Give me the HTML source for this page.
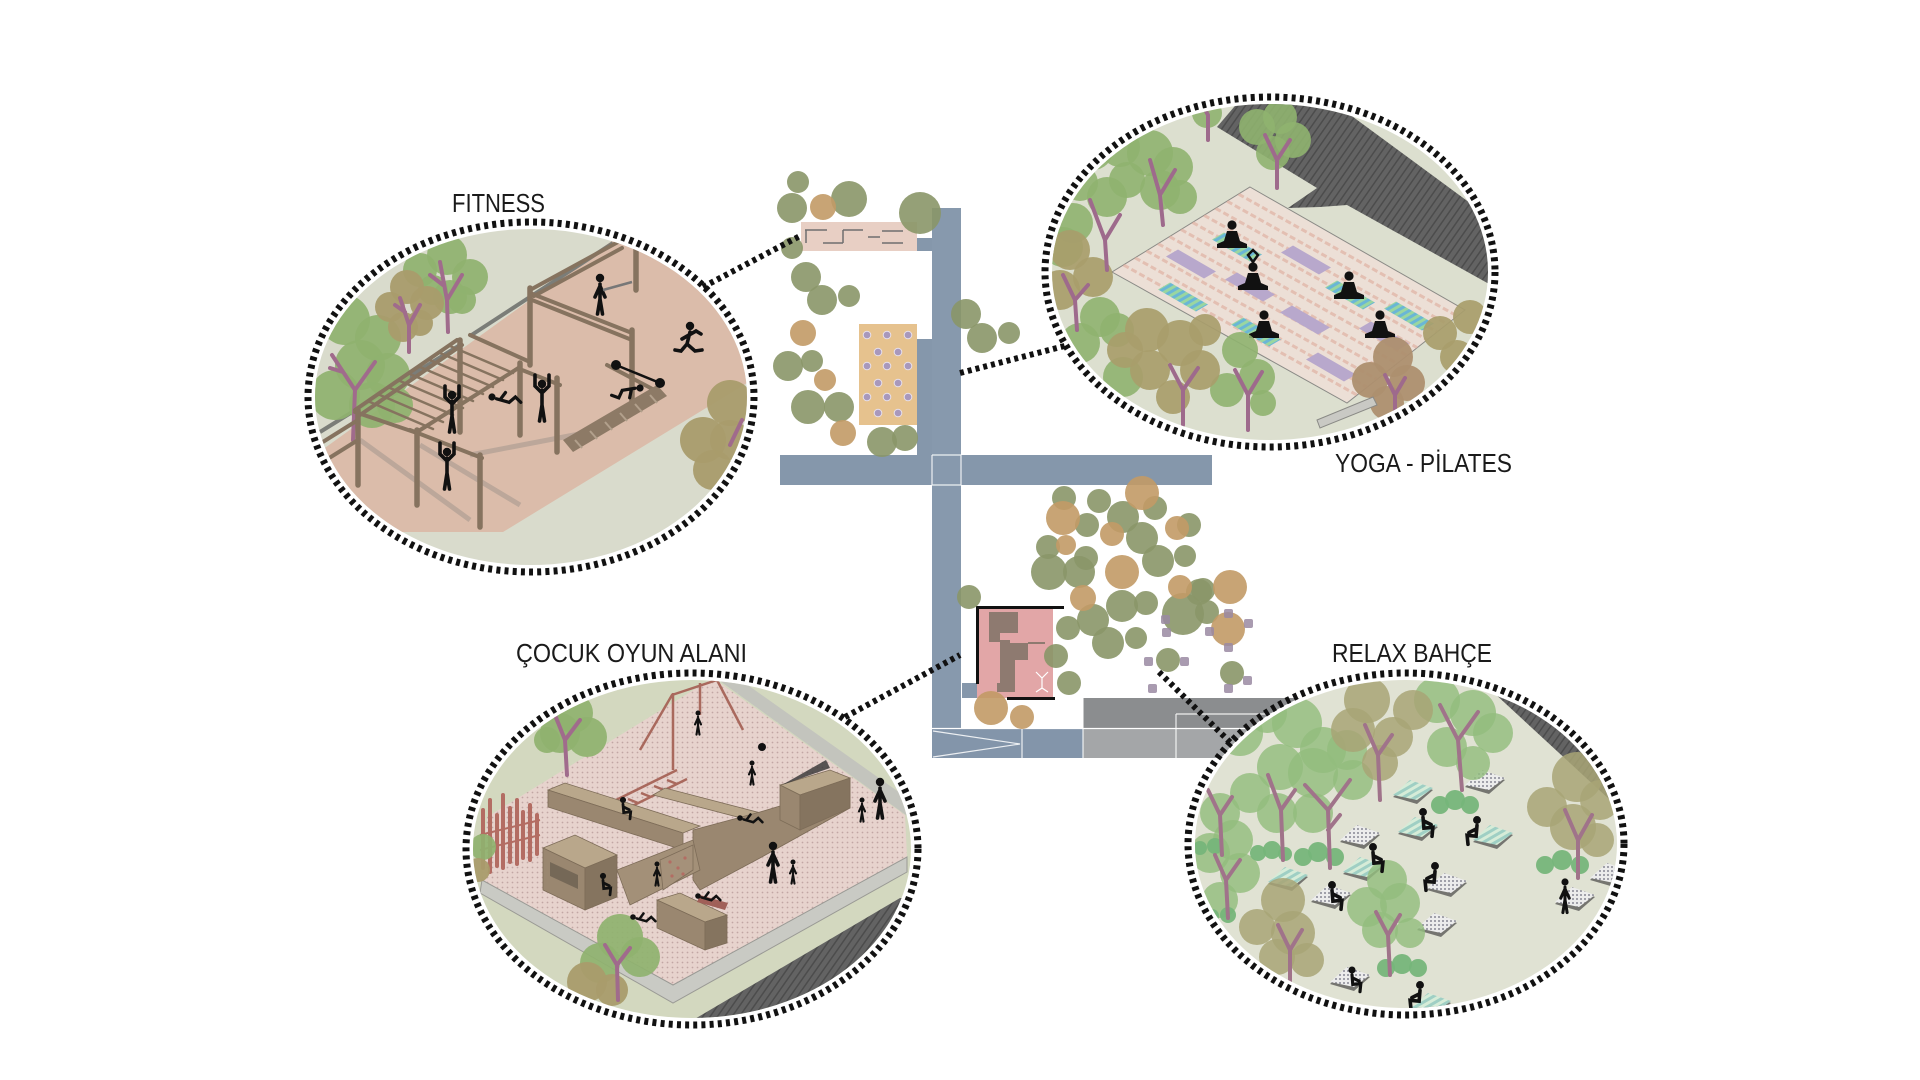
<!DOCTYPE html>
<html><head><meta charset="utf-8"><style>html,body{margin:0;padding:0;background:#fff}svg{display:block}</style></head>
<body>
<svg width="1920" height="1080" viewBox="0 0 1920 1080" xmlns="http://www.w3.org/2000/svg">
<defs>
<clipPath id="cF"><ellipse cx="531" cy="397" rx="216" ry="168"/></clipPath>
<clipPath id="cY"><ellipse cx="1270" cy="272" rx="218" ry="168"/></clipPath>
<clipPath id="cC"><ellipse cx="692" cy="849" rx="219" ry="169"/></clipPath>
<clipPath id="cR"><ellipse cx="1406" cy="844" rx="211" ry="164"/></clipPath>
<clipPath id="cP"><polygon points="1250,187 1465,310 1347,403 1112,272"/></clipPath>
<pattern id="pd" width="5" height="5" patternUnits="userSpaceOnUse"><rect width="5" height="5" fill="#e7d3cd"/><circle cx="2.5" cy="2.5" r="0.9" fill="#c2a6a4"/></pattern>
<pattern id="ds" width="6" height="6" patternUnits="userSpaceOnUse" patternTransform="rotate(35)"><rect width="6" height="6" fill="#636363"/><rect width="1.5" height="6" fill="#4c4c4c"/></pattern>
<pattern id="pt" width="6" height="6" patternUnits="userSpaceOnUse" patternTransform="rotate(60)"><rect width="6" height="6" fill="#9ad6a0"/><rect width="3" height="6" fill="#6ab6d6"/></pattern>
<pattern id="ptl" width="6" height="6" patternUnits="userSpaceOnUse" patternTransform="rotate(60)"><rect width="6" height="6" fill="#d6ecd8"/><rect width="3" height="6" fill="#9fcfc4"/></pattern>
<pattern id="pw" width="4" height="4" patternUnits="userSpaceOnUse"><rect width="4" height="4" fill="#ececec"/><circle cx="2" cy="2" r=".9" fill="#6a6a7a"/></pattern>
<g id="fs"><circle cx="0" cy="0" r="4.2" fill="#111"/><path fill="none" stroke="#111" stroke-width="3.6" stroke-linecap="round" d="M0,6 V21 L-2.5,36 M0,21 L2.5,36 M0,8 L-5,19 M0,8 L5,19"/></g>
<g id="fu"><circle cx="0" cy="0" r="4.2" fill="#111"/><path fill="none" stroke="#111" stroke-width="3.6" stroke-linecap="round" d="M0,6 V21 L-2.5,37 M0,21 L2.5,37 M-1,8 L-7,2 L-7,-9 M1,8 L7,2 L7,-9"/></g>
<g id="fr"><circle cx="0" cy="0" r="4.2" fill="#111"/><path fill="none" stroke="#111" stroke-width="3.6" stroke-linecap="round" d="M0,6 L-3,18 L5,25 L12,24 M-3,18 L-9,25 L-15,24 M-1,9 L-8,13 M-1,9 L6,5 L11,8"/></g>
<g id="fm"><circle cx="0" cy="0" r="4.6" fill="#111"/><path fill="#111" d="M-5,6 H5 L8,16 L15,19 V23 H-15 V19 L-8,16 Z"/></g>
<g id="fl"><circle cx="0" cy="0" r="4" fill="#111"/><path fill="none" stroke="#111" stroke-width="3.6" stroke-linecap="round" d="M5,2 L19,6 L26,0 L32,6 M9,3 L15,-5"/></g>
<g id="fk"><circle cx="0" cy="0" r="4.4" fill="#111"/><path fill="none" stroke="#111" stroke-width="4" stroke-linecap="round" d="M0,6 L1,18 L11,17 L10,27 M1,10 L9,14"/></g>
<g id="mp"><polygon points="-25,-7.5 -13,-14.5 25,7.5 13,14.5" fill="#b8a8cc"/></g>
<g id="mt"><polygon points="-25,-7.5 -13,-14.5 25,7.5 13,14.5" fill="url(#pt)"/></g>
<g id="bt"><polygon points="-20,7 -3,-8 20,0 4,14" fill="#5a5a58" opacity=".8"/><polygon points="-20,5 -3,-10 20,-2 4,10" fill="url(#ptl)"/></g>
<g id="bw"><polygon points="-20,7 -3,-8 20,0 4,14" fill="#5a5a58" opacity=".8"/><polygon points="-20,5 -3,-10 20,-2 4,10" fill="url(#pw)"/></g>
</defs>

<rect width="1920" height="1080" fill="#fff"/>

<!-- ===== CENTRAL PLAN ===== -->
<rect x="780" y="455" width="432" height="30" fill="#8597ab"/>
<rect x="932" y="208" width="29" height="520" fill="#8799ad"/>
<rect x="917" y="339" width="15" height="116" fill="#8597ab"/>
<rect x="917" y="238" width="15" height="13" fill="#8597ab"/>
<rect x="962" y="683" width="15" height="15" fill="#8597ab"/>
<rect x="932" y="729" width="151" height="29" fill="#8395aa"/>
<rect x="1083" y="698" width="240" height="30" fill="#8b8d8f"/>
<rect x="1083" y="729" width="240" height="29" fill="#a4a6a8"/>
<path d="M932,455 V485 M961,455 V485 M932,455 H961 M932,485 H961 M1022,729 V758 M932,728.5 H1323 M1083,698 V758 M1176,714 H1323 M1176,714 V758 M933,731 L1020,744 L933,757" stroke="#fff" stroke-width="1.2" fill="none" opacity=".85"/>

<rect x="801" y="222" width="116" height="29" fill="#e8cfc4"/>
<path d="M805,230 H827 M806,230 V243 M823,243 H843 M843,230 V243 M843,230 H863 M868,237 H880 M882,231 H903 M882,243 H903" stroke="#6f6f6f" stroke-width="1.5" fill="none"/>

<rect x="859" y="324" width="58" height="101" fill="#e6c28e"/>
<g fill="#a898bc" stroke="#e8e0ea" stroke-width="1">
<circle cx="867" cy="335" r="3.8"/><circle cx="887" cy="335" r="3.8"/><circle cx="908" cy="335" r="3.8"/>
<circle cx="878" cy="352" r="3.8"/><circle cx="898" cy="352" r="3.8"/>
<circle cx="867" cy="366" r="3.8"/><circle cx="887" cy="366" r="3.8"/><circle cx="908" cy="366" r="3.8"/>
<circle cx="878" cy="383" r="3.8"/><circle cx="898" cy="383" r="3.8"/>
<circle cx="867" cy="397" r="3.8"/><circle cx="887" cy="397" r="3.8"/><circle cx="908" cy="397" r="3.8"/>
<circle cx="878" cy="413" r="3.8"/><circle cx="898" cy="413" r="3.8"/>
</g>

<rect x="977" y="607" width="76" height="91" fill="#e2a6a7"/>
<g fill="#8e7a70">
<rect x="989" y="612" width="29" height="21"/><rect x="989" y="625" width="11" height="17"/>
<rect x="1000" y="640" width="10" height="47"/><rect x="1002" y="643" width="26" height="17"/>
<rect x="1000" y="660" width="15" height="23"/><rect x="997" y="683" width="18" height="9"/>
<rect x="1028" y="642" width="17" height="2"/>
</g>
<path d="M1036,672 L1042,678 L1048,672 M1042,678 V688 L1036,692 M1042,688 L1048,692" stroke="#fff" stroke-width="1.2" fill="none"/>
<rect x="977" y="606" width="87" height="3" fill="#111"/>
<rect x="976" y="606" width="3" height="78" fill="#111"/>
<rect x="1007" y="697" width="48" height="3" fill="#111"/>

<!-- plan trees -->
<g fill="#8a9668" fill-opacity=".9">
<circle cx="798" cy="182" r="11"/><circle cx="792" cy="208" r="15"/><circle cx="849" cy="199" r="18"/><circle cx="920" cy="213" r="21"/>
<circle cx="792" cy="248" r="11"/><circle cx="806" cy="277" r="15"/><circle cx="822" cy="300" r="15"/><circle cx="849" cy="296" r="11"/>
<circle cx="788" cy="366" r="15"/><circle cx="812" cy="361" r="11"/><circle cx="808" cy="407" r="17"/><circle cx="839" cy="407" r="15"/>
<circle cx="882" cy="442" r="15"/><circle cx="905" cy="438" r="13"/><circle cx="966" cy="314" r="15"/><circle cx="982" cy="338" r="15"/><circle cx="1009" cy="333" r="11"/>
<circle cx="1064" cy="498" r="12"/><circle cx="1099" cy="501" r="12"/><circle cx="1155" cy="508" r="12"/><circle cx="1087" cy="525" r="12"/>
<circle cx="1123" cy="517" r="16"/><circle cx="1142" cy="538" r="16"/><circle cx="1189" cy="525" r="12"/><circle cx="1048" cy="547" r="12"/>
<circle cx="1086" cy="558" r="12"/><circle cx="1049" cy="572" r="18"/><circle cx="1079" cy="572" r="16"/><circle cx="1158" cy="561" r="16"/>
<circle cx="1185" cy="556" r="11"/><circle cx="969" cy="597" r="12"/><circle cx="1122" cy="606" r="16"/><circle cx="1146" cy="603" r="12"/>
<circle cx="1203" cy="590" r="12"/><circle cx="1183" cy="614" r="21"/><circle cx="1207" cy="612" r="12"/><circle cx="1068" cy="628" r="12"/>
<circle cx="1093" cy="620" r="16"/><circle cx="1108" cy="643" r="16"/><circle cx="1136" cy="638" r="11"/><circle cx="1056" cy="656" r="12"/>
<circle cx="1069" cy="683" r="12"/><circle cx="1168" cy="660" r="12"/><circle cx="1232" cy="673" r="12"/><circle cx="1199" cy="592" r="13"/>
</g>
<g fill="#c29a66" fill-opacity=".9">
<circle cx="823" cy="207" r="13"/><circle cx="803" cy="333" r="13"/><circle cx="825" cy="380" r="11"/><circle cx="843" cy="433" r="13"/>
<circle cx="1063" cy="518" r="17"/><circle cx="1142" cy="493" r="17"/><circle cx="1112" cy="534" r="12"/><circle cx="1177" cy="528" r="12"/>
<circle cx="1066" cy="545" r="10"/><circle cx="1122" cy="572" r="17"/><circle cx="1083" cy="598" r="13"/><circle cx="1180" cy="587" r="12"/>
<circle cx="1230" cy="587" r="17"/><circle cx="1228" cy="629" r="17"/><circle cx="991" cy="708" r="17"/><circle cx="1022" cy="717" r="12"/>
</g>
<g fill="#9a8aa2" fill-opacity=".85">
<rect x="1161" y="615" width="9" height="9" rx="2"/><rect x="1162" y="628" width="9" height="9" rx="2"/><rect x="1144" y="657" width="9" height="9" rx="2"/>
<rect x="1180" y="657" width="9" height="9" rx="2"/><rect x="1148" y="684" width="9" height="9" rx="2"/><rect x="1205" y="627" width="9" height="9" rx="2"/>
<rect x="1224" y="643" width="9" height="9" rx="2"/><rect x="1224" y="684" width="9" height="9" rx="2"/><rect x="1224" y="609" width="9" height="9" rx="2"/>
<rect x="1244" y="619" width="9" height="9" rx="2"/><rect x="1243" y="676" width="9" height="9" rx="2"/>
</g>

<!-- connectors -->
<g stroke="#111" stroke-width="6" stroke-dasharray="4 4" fill="none">
<path d="M703,287 L800,236"/>
<path d="M960,373 L1080,342"/>
<path d="M845,717 L960,655"/>
<path d="M1159,672 L1245,757"/>
</g>

<!-- white halos -->
<g fill="#fff">
<ellipse cx="531" cy="397" rx="220" ry="172"/>
<ellipse cx="1270" cy="272" rx="222" ry="172"/>
<ellipse cx="692" cy="849" rx="223" ry="173"/>
<ellipse cx="1406" cy="844" rx="215" ry="168"/>
</g>

<!-- ===== FITNESS ===== -->
<g clip-path="url(#cF)">
<rect x="300" y="220" width="470" height="360" fill="#d9dbcc"/>
<polygon points="613,240 660,240 770,320 752,380 503,532 395,532 340,512 308,460 322,450" fill="#dbbcaa"/>
<path d="M613,243 L470,336 M460,345 L320,432" stroke="#7b7d78" stroke-width="4" fill="none"/>
<path d="M360,440 L470,520 M420,445 L520,505 M470,455 L600,430" stroke="#a69a90" stroke-width="5" fill="none" opacity=".6"/>
<g fill="#8fb26f" fill-opacity=".92">
<circle cx="420" cy="270" r="17"/><circle cx="447" cy="255" r="20"/><circle cx="470" cy="277" r="18"/><circle cx="450" cy="297" r="17"/><circle cx="433" cy="290" r="15"/><circle cx="462" cy="300" r="14"/>
<circle cx="345" cy="320" r="25"/><circle cx="378" cy="338" r="23"/><circle cx="360" cy="365" r="25"/><circle cx="388" cy="375" r="22"/><circle cx="335" cy="395" r="25"/><circle cx="372" cy="405" r="23"/><circle cx="395" cy="405" r="18"/>
</g>
<g fill="#a99c6c" fill-opacity=".95">
<circle cx="407" cy="287" r="17"/><circle cx="390" cy="307" r="15"/><circle cx="427" cy="303" r="17"/><circle cx="403" cy="327" r="15"/><circle cx="420" cy="323" r="13"/>
<circle cx="730" cy="403" r="23"/><circle cx="703" cy="440" r="23"/><circle cx="730" cy="440" r="20"/><circle cx="713" cy="470" r="20"/>
</g>
<g stroke="#a06b8c" stroke-width="4" fill="none" stroke-linecap="round">
<path d="M448,332 L447,300 L440,262 M447,300 L462,275 M443,285 L430,275"/>
<path d="M409,352 L409,325 L400,298 M409,325 L420,305 M405,312 L395,305"/>
<path d="M353,440 L355,390 L332,355 M355,390 L375,362 M343,372 L330,368"/>
<path d="M730,445 L742,420"/>
</g>
<g stroke="#86735f" fill="none" stroke-linecap="round">
<path stroke-width="4" d="M530,290 L618,242 M534,296 L622,248 M530,293 L632,333 M532,300 L632,340 M457,340 L355,410 M462,345 L360,415 M520,367 L417,432 M470,335 L530,362 M522,370 L560,385 M410,430 L482,458 M355,412 L417,433 M358,420 L310,450 M358,440 L310,470 M607,365 L660,393"/>
<path stroke-width="5.5" d="M530,288 V365 M636,247 V290 M632,330 V410 M460,340 V432 M520,363 V435 M358,410 V485 M417,430 V505 M480,455 V527 M557,378 V452"/>
<path stroke-width="2.5" d="M450,346 L513,373 M440,353 L503,380 M430,360 L493,387 M420,367 L483,394 M410,374 L473,401 M400,381 L463,408 M390,388 L453,415 M380,395 L443,422 M370,402 L433,429"/>
</g>
<polygon points="563,440 657,385 667,396 573,452" fill="#8d7a66"/>
<path d="M575,440 L582,448 M590,431 L597,439 M605,422 L612,430 M620,413 L627,421 M635,404 L642,412 M650,395 L657,403" stroke="#b2a08c" stroke-width="2"/>
<use href="#fs" transform="translate(600,278)"/>
<path d="M603,290 L632,282" stroke="#777" stroke-width="2.5"/>
<use href="#fr" transform="translate(690,326)"/>
<use href="#fu" transform="translate(542,384)"/>
<use href="#fu" transform="translate(452,395)"/>
<use href="#fu" transform="translate(447,452)"/>
<use href="#fl" transform="translate(492,397) scale(.9)"/>
<use href="#fl" transform="translate(640,388) rotate(155) scale(.9)"/>
<circle cx="616" cy="365" r="5" fill="#111"/><circle cx="660" cy="383" r="5" fill="#111"/><path d="M616,365 L660,383" stroke="#111" stroke-width="2.5"/>
</g>

<!-- ===== YOGA ===== -->
<g clip-path="url(#cY)">
<rect x="1040" y="90" width="470" height="370" fill="#dcdfcf"/>
<polygon points="1217,127 1240,100 1330,100 1500,225 1500,290 1347,205 1320,207 1288,208 1317,188" fill="url(#ds)"/>
<polygon points="1250,187 1465,310 1347,403 1112,272" fill="#ecdfd6" stroke="#8a8a86" stroke-width="1"/>
<g clip-path="url(#cP)" stroke="#dfae9e" stroke-width="3" opacity=".65" stroke-dasharray="6 3">
<path d="M1123.5,264.9 L1358.5,395.9 M1135,257.8 L1370,388.8 M1146.5,250.8 L1381.5,381.8 M1158,243.7 L1393,374.7 M1169.5,236.6 L1404.5,367.6 M1181,229.5 L1416,360.5 M1192.5,222.4 L1427.5,353.4 M1204,215.3 L1439,346.3 M1215.5,208.3 L1450.5,339.3 M1227,201.2 L1462,332.2 M1238.5,194.1 L1473.5,325.1"/>
</g>
<use href="#mp" transform="translate(1191,264)"/><use href="#mp" transform="translate(1306,260)"/><use href="#mp" transform="translate(1250,287)"/>
<use href="#mp" transform="translate(1305,320)"/><use href="#mp" transform="translate(1384,336)"/><use href="#mp" transform="translate(1331,367)"/>
<use href="#mt" transform="translate(1237,247)"/><use href="#mt" transform="translate(1183,297)"/><use href="#mt" transform="translate(1350,295)"/>
<use href="#mt" transform="translate(1256,332)"/><use href="#mt" transform="translate(1409,316)"/>
<use href="#fm" transform="translate(1232,225)"/>
<use href="#fm" transform="translate(1253,267)"/><path d="M1253,262 L1248,255 L1253,250 L1258,255 Z" fill="none" stroke="#111" stroke-width="2.5"/>
<use href="#fm" transform="translate(1349,276)"/>
<use href="#fm" transform="translate(1264,315)"/>
<use href="#fm" transform="translate(1380,315)"/>
<g fill="#8fb26f" fill-opacity=".9">
<circle cx="1093" cy="150" r="20"/><circle cx="1120" cy="147" r="20"/><circle cx="1080" cy="183" r="18"/><circle cx="1107" cy="197" r="20"/><circle cx="1127" cy="180" r="18"/>
<circle cx="1073" cy="223" r="20"/><circle cx="1063" cy="247" r="20"/><circle cx="1150" cy="153" r="23"/><circle cx="1173" cy="167" r="20"/><circle cx="1160" cy="190" r="20"/><circle cx="1180" cy="197" r="17"/>
<circle cx="1100" cy="317" r="20"/><circle cx="1080" cy="343" r="20"/><circle cx="1117" cy="330" r="17"/><circle cx="1123" cy="377" r="20"/>
<circle cx="1240" cy="350" r="18"/><circle cx="1257" cy="377" r="18"/><circle cx="1227" cy="390" r="17"/><circle cx="1263" cy="403" r="13"/>
<circle cx="1207" cy="113" r="15"/><circle cx="1257" cy="127" r="18"/><circle cx="1280" cy="117" r="17"/><circle cx="1293" cy="140" r="18"/><circle cx="1273" cy="153" r="17"/>
</g>
<g fill="#a89d6b" fill-opacity=".92">
<circle cx="1070" cy="250" r="20"/><circle cx="1093" cy="277" r="20"/><circle cx="1060" cy="290" r="20"/>
<circle cx="1147" cy="330" r="22"/><circle cx="1180" cy="343" r="23"/><circle cx="1200" cy="370" r="20"/><circle cx="1150" cy="370" r="20"/><circle cx="1173" cy="397" r="17"/>
<circle cx="1125" cy="350" r="18"/><circle cx="1205" cy="330" r="16"/>
<circle cx="1440" cy="333" r="17"/><circle cx="1470" cy="317" r="17"/><circle cx="1457" cy="357" r="17"/>
</g>
<g fill="#ad8f6f" fill-opacity=".95">
<circle cx="1393" cy="357" r="20"/><circle cx="1370" cy="380" r="18"/><circle cx="1407" cy="383" r="18"/><circle cx="1387" cy="403" r="17"/>
</g>
<g stroke="#9e6a8c" stroke-width="4" fill="none" stroke-linecap="round">
<path d="M1163,225 L1160,195 L1150,160 M1160,195 L1175,170"/>
<path d="M1107,270 L1105,240 L1090,200 M1105,240 L1120,215"/>
<path d="M1077,330 L1075,300 L1063,275 M1075,300 L1088,285"/>
<path d="M1183,425 L1183,390 L1170,365 M1183,390 L1198,368"/>
<path d="M1248,430 L1248,395 L1235,370 M1248,395 L1262,372"/>
<path d="M1277,188 L1277,160 L1265,135 M1277,160 L1290,140"/>
<path d="M1208,140 L1208,115 L1200,100"/>
<path d="M1395,420 L1395,395 L1385,375 M1395,395 L1405,378"/>
</g>
<polygon points="1317,420 1373,397 1377,405 1320,428" fill="#c9c9c4" stroke="#8a8a86" stroke-width="1"/>
</g>

<!-- ===== COCUK ===== -->
<g clip-path="url(#cC)">
<rect x="460" y="670" width="470" height="360" fill="#d3d8bf"/>
<polygon points="713,676 735,676 910,800 910,818" fill="#c3c4bd"/>
<polygon points="487,817 713,678 905,815 907,857 673,985 482,880" fill="url(#pd)"/>
<polygon points="482,880 673,985 907,857 907,872 673,1003 480,893" fill="#c9cac4" stroke="#9a9a95" stroke-width="1"/>
<polygon points="693,1020 900,898 930,898 930,1040 693,1040" fill="url(#ds)"/>
<g stroke="#b36d63" stroke-width="4" stroke-linecap="round">
<path d="M483,810 V868 M490,800 V872 M497,815 V866 M503,795 V868 M510,808 V862 M517,800 V864 M523,812 V858 M530,805 V860 M537,815 V854"/>
</g>
<path d="M480,835 L540,820 M480,850 L540,835" stroke="#b36d63" stroke-width="2"/>
<g stroke="#a9695d" stroke-width="2.5" fill="none">
<path d="M640,750 L672,695 L717,680 L743,730 M673,693 V770 M700,683 V715 M610,803 L677,770 M620,812 L687,779 M615,806 L625,810 M628,799 L638,803 M641,793 L651,797 M654,786 L664,790 M667,780 L677,784"/>
</g>
<g stroke="#7d6c58" stroke-width=".8">
<polygon points="548,790 565,783 700,826 683,833" fill="#b9a78b"/>
<polygon points="548,790 683,833 683,850 548,807" fill="#9a8770"/>
<polygon points="653,795 665,788 780,818 768,825" fill="#b9a78b"/>
<polygon points="693,830 760,812 800,800 850,778 850,808 760,858 700,890 693,880" fill="#9a8770"/>
<polygon points="780,785 830,770 850,778 800,795" fill="#b9a78b"/>
<polygon points="780,785 800,795 800,830 780,820" fill="#9a8770"/>
<polygon points="800,795 850,778 850,808 800,830" fill="#85745f"/>
<polygon points="543,848 575,835 617,855 585,868" fill="#b9a78b"/>
<polygon points="543,848 585,868 585,910 543,890" fill="#9a8770"/>
<polygon points="585,868 617,855 617,897 585,910" fill="#85745f"/>
<polygon points="617,870 693,840 700,870 630,905" fill="#a39078"/>
<polygon points="660,860 693,845 693,870 663,890" fill="#a5917a"/>
<polygon points="657,900 680,893 727,915 705,922" fill="#b9a78b"/>
<polygon points="657,900 705,922 705,950 657,928" fill="#9a8770"/>
<polygon points="705,922 727,915 727,943 705,950" fill="#85745f"/>
</g>
<polygon points="550,862 578,875 578,889 550,876" fill="#5e5346" opacity=".6"/>
<polygon points="782,785 830,768 826,760" fill="#333" opacity=".8"/>
<polygon points="700,895 728,903 725,910 697,902" fill="#a06058"/>
<g fill="#b36d63"><circle cx="670" cy="862" r="1.6"/><circle cx="678" cy="868" r="1.6"/><circle cx="685" cy="858" r="1.6"/><circle cx="672" cy="876" r="1.6"/><circle cx="683" cy="874" r="1.6"/></g>
<g fill="#8fb26f" fill-opacity=".92">
<circle cx="573" cy="713" r="20"/><circle cx="560" cy="733" r="20"/><circle cx="587" cy="737" r="20"/><circle cx="547" cy="740" r="13"/>
<circle cx="620" cy="937" r="23"/><circle cx="640" cy="957" r="20"/><circle cx="600" cy="963" r="20"/><circle cx="483" cy="847" r="13"/>
</g>
<g fill="#a99c6c" fill-opacity=".95"><circle cx="587" cy="982" r="20"/><circle cx="612" cy="990" r="16"/><circle cx="478" cy="870" r="12"/></g>
<g stroke="#a06b8c" stroke-width="4" fill="none" stroke-linecap="round">
<path d="M567,775 L565,740 L555,715 M565,740 L580,720"/>
<path d="M618,1000 L617,965 L605,945 M617,965 L630,948"/>
</g>
<use href="#fs" transform="translate(698,713) scale(.6)"/>
<use href="#fs" transform="translate(752,763) scale(.6)"/><circle cx="762" cy="747" r="4" fill="#111"/>
<use href="#fk" transform="translate(623,800) scale(.7)"/>
<use href="#fl" transform="translate(740,818) scale(.7)"/>
<use href="#fs" transform="translate(773,846)"/>
<use href="#fs" transform="translate(793,862) scale(.6)"/>
<use href="#fs" transform="translate(880,782)"/>
<use href="#fs" transform="translate(862,800) scale(.6)"/>
<use href="#fs" transform="translate(657,864) scale(.6)"/>
<use href="#fk" transform="translate(603,876) scale(.7)"/>
<use href="#fl" transform="translate(698,896) scale(.7)"/>
<use href="#fl" transform="translate(633,917) scale(.7)"/>
</g>

<!-- ===== RELAX ===== -->
<g clip-path="url(#cR)">
<rect x="1180" y="665" width="460" height="360" fill="#e0e2d3"/>
<polygon points="1480,680 1520,680 1630,770 1630,830 1610,800" fill="url(#ds)"/>
<use href="#bt" transform="translate(1413,790)"/><use href="#bw" transform="translate(1485,780)"/>
<use href="#bt" transform="translate(1418,827)"/><use href="#bt" transform="translate(1493,835)"/>
<use href="#bw" transform="translate(1360,835)"/><use href="#bt" transform="translate(1363,867)"/>
<use href="#bt" transform="translate(1288,877)"/><use href="#bw" transform="translate(1331,895)"/>
<use href="#bw" transform="translate(1447,883)"/><use href="#bw" transform="translate(1437,923)"/>
<use href="#bw" transform="translate(1575,897)"/><use href="#bw" transform="translate(1610,873)"/>
<use href="#bw" transform="translate(1350,977)"/><use href="#bt" transform="translate(1431,1003)"/>
<g fill="#93bd7e" fill-opacity=".82">
<circle cx="1240" cy="733" r="23"/><circle cx="1267" cy="713" r="20"/><circle cx="1297" cy="723" r="25"/><circle cx="1323" cy="750" r="23"/>
<circle cx="1280" cy="767" r="23"/><circle cx="1313" cy="773" r="25"/><circle cx="1347" cy="750" r="20"/><circle cx="1353" cy="780" r="20"/>
<circle cx="1250" cy="793" r="20"/><circle cx="1277" cy="813" r="20"/><circle cx="1220" cy="813" r="20"/><circle cx="1210" cy="853" r="20"/>
<circle cx="1233" cy="840" r="20"/><circle cx="1240" cy="873" r="20"/><circle cx="1220" cy="900" r="18"/><circle cx="1313" cy="813" r="20"/>
<circle cx="1437" cy="700" r="23"/><circle cx="1473" cy="713" r="23"/><circle cx="1493" cy="733" r="20"/><circle cx="1447" cy="747" r="20"/><circle cx="1473" cy="763" r="17"/>
<circle cx="1387" cy="880" r="20"/><circle cx="1367" cy="907" r="20"/><circle cx="1400" cy="903" r="20"/><circle cx="1380" cy="930" r="18"/><circle cx="1410" cy="933" r="15"/>
</g>
<g fill="#a8a576" fill-opacity=".85">
<circle cx="1367" cy="700" r="23"/><circle cx="1353" cy="730" r="22"/><circle cx="1393" cy="737" r="20"/><circle cx="1380" cy="763" r="18"/><circle cx="1413" cy="710" r="20"/>
<circle cx="1577" cy="777" r="25"/><circle cx="1547" cy="807" r="20"/><circle cx="1573" cy="827" r="23"/><circle cx="1600" cy="800" r="20"/><circle cx="1597" cy="840" r="17"/>
<circle cx="1283" cy="900" r="22"/><circle cx="1257" cy="927" r="18"/><circle cx="1293" cy="933" r="22"/><circle cx="1277" cy="957" r="18"/><circle cx="1307" cy="960" r="17"/>
</g>
<g fill="#76b57a" fill-opacity=".95">
<circle cx="1440" cy="805" r="9"/><circle cx="1455" cy="800" r="10"/><circle cx="1470" cy="805" r="9"/>
<circle cx="1303" cy="857" r="9"/><circle cx="1318" cy="852" r="10"/><circle cx="1335" cy="857" r="9"/>
<circle cx="1258" cy="853" r="8"/><circle cx="1272" cy="850" r="9"/><circle cx="1285" cy="854" r="7"/>
<circle cx="1545" cy="865" r="9"/><circle cx="1562" cy="860" r="10"/><circle cx="1580" cy="865" r="9"/>
<circle cx="1386" cy="968" r="9"/><circle cx="1402" cy="964" r="10"/><circle cx="1418" cy="968" r="9"/>
<circle cx="1200" cy="848" r="7"/><circle cx="1215" cy="846" r="8"/><circle cx="1212" cy="916" r="7"/><circle cx="1228" cy="915" r="8"/>
</g>
<g stroke="#a0738a" stroke-width="4" fill="none" stroke-linecap="round">
<path d="M1283,860 L1281,810 L1268,775 M1281,810 L1295,790"/>
<path d="M1330,868 L1328,810 L1305,785 M1328,810 L1350,780 M1328,830 L1340,815"/>
<path d="M1380,800 L1378,755 L1365,725 M1378,755 L1392,735"/>
<path d="M1462,790 L1458,740 L1440,705 M1458,740 L1478,712"/>
<path d="M1578,878 L1578,840 L1565,810 M1578,840 L1592,815"/>
<path d="M1228,918 L1226,880 L1215,855 M1226,880 L1240,860"/>
<path d="M1222,855 L1220,815 L1208,790 M1220,815 L1232,797"/>
<path d="M1290,985 L1290,950 L1278,925 M1290,950 L1302,930"/>
<path d="M1390,975 L1388,935 L1376,912 M1388,935 L1400,915"/>
</g>
<use href="#fk" transform="translate(1423,812) scale(.9)"/>
<use href="#fk" transform="translate(1477,820) scale(-.9,.9)"/>
<use href="#fk" transform="translate(1373,847) scale(.9)"/>
<use href="#fk" transform="translate(1435,866) scale(-.9,.9)"/>
<use href="#fk" transform="translate(1332,885) scale(.9)"/>
<use href="#fs" transform="translate(1565,882) scale(.85)"/>
<use href="#fk" transform="translate(1352,970) scale(.8)"/>
<use href="#fk" transform="translate(1420,985) scale(-.9,.9)"/>
</g>

<!-- rings -->
<g fill="none" stroke="#111" stroke-width="7" stroke-dasharray="4 4.2">
<ellipse cx="531" cy="397" rx="223" ry="175"/>
<ellipse cx="1270" cy="272" rx="225" ry="175"/>
<ellipse cx="692" cy="849" rx="226" ry="176"/>
<ellipse cx="1406" cy="844" rx="218" ry="171"/>
</g>

<!-- labels -->
<g font-family="'Liberation Sans', Arial, sans-serif" font-size="26" fill="#1a1a1a">
<text x="452" y="212" textLength="93" lengthAdjust="spacingAndGlyphs">FITNESS</text>
<text x="1335" y="472" textLength="177" lengthAdjust="spacingAndGlyphs">YOGA - PİLATES</text>
<text x="516" y="662" textLength="231" lengthAdjust="spacingAndGlyphs">ÇOCUK OYUN ALANI</text>
<text x="1332" y="662" textLength="160" lengthAdjust="spacingAndGlyphs">RELAX BAHÇE</text>
</g>
</svg>
</body></html>
